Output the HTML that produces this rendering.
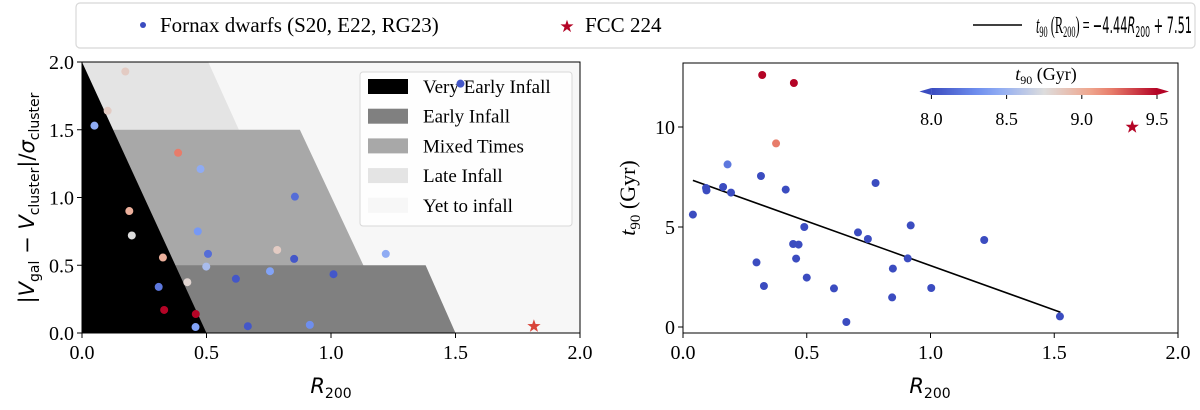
<!DOCTYPE html>
<html><head><meta charset="utf-8"><style>
body{margin:0;background:#fff;}
svg{display:block;font-family:"Liberation Serif",serif;}
</style></head><body>
<svg id="chart" width="1200" height="410" viewBox="0 0 1200 410" xmlns="http://www.w3.org/2000/svg">
<g>
<rect x="76" y="3" width="1119" height="45" rx="4" fill="#fff" stroke="#d8d8d8" stroke-width="1.2"/>
<circle cx="143" cy="25" r="3" fill="#3b4cc0"/>
<text x="160" y="32" font-size="21" fill="#000">Fornax dwarfs (S20, E22, RG23)</text>
<text x="567" y="32" font-size="17" fill="#b40426" text-anchor="middle">★</text>
<text x="585" y="32" font-size="21" fill="#000">FCC 224</text>
<line x1="973" y1="25" x2="1022" y2="25" stroke="#000" stroke-width="1.5"/>
<text x="1036" y="33" font-size="24" fill="#000" textLength="156" lengthAdjust="spacingAndGlyphs"><tspan font-style="italic">t</tspan><tspan font-size="16" dy="4">90</tspan><tspan dy="-4"> (R</tspan><tspan font-size="16" dy="4">200</tspan><tspan dy="-4">) = </tspan><tspan font-family="DejaVu Sans, sans-serif" font-size="22">−4.44</tspan><tspan font-family="DejaVu Sans, sans-serif" font-size="22" font-style="italic">R</tspan><tspan font-family="DejaVu Sans, sans-serif" font-size="15" dy="4">200</tspan><tspan font-family="DejaVu Sans, sans-serif" font-size="22" dy="-4"> + 7.51</tspan></text>
</g>
<g id="left"></g>
<g id="right"></g>
</svg>
<script>
const NS='http://www.w3.org/2000/svg';
// Left panel data
const leftR=[0.05,0.103,0.174,0.19,0.20,0.325,0.308,0.33,0.386,0.423,0.457,0.456,0.465,0.476,0.499,0.506,0.618,0.666,0.755,0.784,0.852,0.855,0.915,1.01,1.22,1.52];
const leftV=[1.53,1.64,1.93,0.90,0.72,0.557,0.34,0.17,1.33,0.375,0.14,0.044,0.75,1.21,0.49,0.584,0.40,0.05,0.456,0.613,0.547,1.006,0.06,0.434,0.584,1.84];
const leftC=[8.45,8.85,8.85,9.0,8.75,9.0,8.2,9.5,9.2,8.8,9.5,8.4,8.35,8.45,8.55,8.15,8.05,8.05,8.4,8.85,8.05,8.15,8.3,8.05,8.45,8.05];
const fccR=1.815, fccV=0.05, fccT=10.0;
// Right panel data
const rightR=[0.04,0.093,0.095,0.162,0.18,0.194,0.297,0.315,0.32,0.327,0.376,0.415,0.445,0.448,0.457,0.467,0.49,0.50,0.61,0.66,0.707,0.747,0.778,0.845,0.848,0.908,0.92,1.003,1.217,1.523];
const rightT=[5.62,6.95,6.83,7.0,8.13,6.72,3.23,7.55,12.6,2.05,9.18,6.87,4.15,12.2,3.42,4.12,5.0,2.47,1.93,0.25,4.73,4.4,7.2,1.48,2.92,3.43,5.08,1.95,4.35,0.53];
const rightC=[8.0,8.0,8.0,8.0,8.2,8.0,8.0,8.0,9.6,8.0,9.2,8.0,8.0,9.6,8.0,8.0,8.0,8.0,8.0,8.0,8.0,8.0,8.0,8.0,8.0,8.0,8.0,8.0,8.0,8.0];
const slope=-4.44, icpt=7.51, fitX=[0.04,1.525];
const xTicks=[0,0.5,1,1.5,2], xTickLabels=['0.0','0.5','1.0','1.5','2.0'];
const lyTicks=[0,0.5,1,1.5,2], lyTickLabels=['0.0','0.5','1.0','1.5','2.0'];
const ryTicks=[0,5,10], ryTickLabels=['0','5','10'];
const cbTicks=[8,8.5,9,9.5], cbTickLabels=['8.0','8.5','9.0','9.5'];
const regionNames=['Very Early Infall','Early Infall','Mixed Times','Late Infall','Yet to infall'];
const regionColors=['#000000','#808080','#a8a8a8','#e4e4e4','#f7f7f7'];

function mk(parent,tag,attrs,txt){const e=document.createElementNS(NS,tag);for(const k in attrs)e.setAttribute(k,attrs[k]);if(txt!==undefined)e.textContent=txt;parent.appendChild(e);return e;}
function cw(v){const t=Math.max(0,Math.min(1,(v-8)/1.5));
 const s=[[0,[59,76,192]],[0.25,[123,159,249]],[0.5,[221,221,221]],[0.75,[244,154,123]],[1,[180,4,38]]];
 for(let i=0;i<4;i++){if(t<=s[i+1][0]){const f=(t-s[i][0])/(s[i+1][0]-s[i][0]);const a=s[i][1],b=s[i+1][1];return 'rgb('+a.map((c,j)=>Math.round(c+(b[j]-c)*f)).join(',')+')';}}return 'rgb(180,4,38)';}
function star(cx,cy,r){let p=[];for(let i=0;i<10;i++){const a=-Math.PI/2+i*Math.PI/5;const rr=i%2?r*0.4:r;p.push((cx+rr*Math.cos(a)).toFixed(1)+','+(cy+rr*Math.sin(a)).toFixed(1));}return p.join(' ');}

// LEFT
const L=document.getElementById('left');
const lx=v=>82+v*249, ly=v=>333-v*135.5;
const poly=(pts,fill,name)=>{const e=mk(L,'polygon',{points:pts.map(p=>lx(p[0])+','+ly(p[1])).join(' '),fill:fill});

};
poly([[0,0],[0,2],[2,2],[2,0]],regionColors[4],'region-yet-to-infall');
poly([[0,2],[0.507,2],[0.63,1.5],[0,1.5]],regionColors[3],'region-late-infall');
poly([[0,1.5],[0.875,1.5],[1.13,0.5],[1.25,0],[0,0]],regionColors[2],'region-mixed-times');
poly([[0.375,0.5],[1.38,0.5],[1.5,0],[0.5,0]],regionColors[1],'region-early-infall');
poly([[0,2],[0.5,0],[0,0]],regionColors[0],'region-very-early-infall');
leftR.forEach((r,i)=>{const c=mk(L,'circle',{cx:lx(r),cy:ly(leftV[i]),r:4,fill:cw(leftC[i])});

});
const s1=mk(L,'polygon',{points:star(lx(fccR),ly(fccV),7),fill:'#d9453a'});


mk(L,'rect',{x:82,y:62,width:498,height:271,fill:'none',stroke:'#000','stroke-width':1});
xTicks.forEach((t,i)=>{mk(L,'line',{x1:lx(t),x2:lx(t),y1:333,y2:338,stroke:'#000'});
 const tx=mk(L,'text',{x:lx(t),y:359,'font-size':20,'text-anchor':'middle'},xTickLabels[i]);
 
 });
lyTicks.forEach((t,i)=>{mk(L,'line',{x1:77,x2:82,y1:ly(t),y2:ly(t),stroke:'#000'});
 const tx=mk(L,'text',{x:74,y:ly(t)+7,'font-size':20,'text-anchor':'end'},lyTickLabels[i]);
 
 });
const lxl=mk(L,'text',{x:331,y:393,'font-size':21,'text-anchor':'middle','font-family':'DejaVu Sans, sans-serif'});


lxl.innerHTML='<tspan font-style="italic">R</tspan><tspan font-size="14" dy="5">200</tspan>';
const lyl=mk(L,'text',{transform:'translate(34,198) rotate(-90)','font-size':21,'text-anchor':'middle','font-family':'DejaVu Sans, sans-serif'});


lyl.innerHTML='|<tspan font-style="italic">V</tspan><tspan font-size="14" dy="5">gal</tspan><tspan dy="-5"> − </tspan><tspan font-style="italic">V</tspan><tspan font-size="14" dy="5">cluster</tspan><tspan dy="-5">|/</tspan><tspan font-style="italic">σ</tspan><tspan font-size="14" dy="5">cluster</tspan>';
// inner legend
const lg=mk(L,'g',{});


mk(lg,'rect',{x:360,y:72,width:212,height:154,rx:3,fill:'#fff','fill-opacity':0.85,stroke:'#d8d8d8'});
regionNames.forEach((n,i)=>{const y=87+i*29.7;
 mk(lg,'rect',{x:368,y:y-8,width:40,height:15,fill:regionColors[i]});
 const t=mk(lg,'text',{x:423,y:y+6,'font-size':19},n);
 
 });
const over=mk(L,'circle',{cx:lx(leftR[25]),cy:ly(leftV[25]),r:4,fill:cw(leftC[25])});

// RIGHT
const R=document.getElementById('right');
const rx=v=>683+v*247.5, ry=v=>327-v*20;
mk(R,'rect',{x:683,y:63,width:495,height:270,fill:'#fff',stroke:'#000','stroke-width':1});
const fl=mk(R,'line',{x1:rx(fitX[0]),y1:ry(slope*fitX[0]+icpt),x2:rx(fitX[1]),y2:ry(slope*fitX[1]+icpt),stroke:'#000','stroke-width':1.6});


rightR.forEach((r,i)=>{const c=mk(R,'circle',{cx:rx(r),cy:ry(rightT[i]),r:4,fill:cw(rightC[i])});

});
const s2=mk(R,'polygon',{points:star(rx(fccR),ry(fccT),7),fill:'#b40426'});


xTicks.forEach((t,i)=>{mk(R,'line',{x1:rx(t),x2:rx(t),y1:333,y2:338,stroke:'#000'});
 const tx=mk(R,'text',{x:rx(t),y:359,'font-size':20,'text-anchor':'middle'},xTickLabels[i]);
 
 });
ryTicks.forEach((t,i)=>{mk(R,'line',{x1:678,x2:683,y1:ry(t),y2:ry(t),stroke:'#000'});
 const tx=mk(R,'text',{x:675,y:ry(t)+7,'font-size':20,'text-anchor':'end'},ryTickLabels[i]);
 
 });
const rxl=mk(R,'text',{x:930,y:393,'font-size':21,'text-anchor':'middle','font-family':'DejaVu Sans, sans-serif'});


rxl.innerHTML='<tspan font-style="italic">R</tspan><tspan font-size="14" dy="5">200</tspan>';
const ryl=mk(R,'text',{transform:'translate(635,198) rotate(-90)','font-size':22,'text-anchor':'middle'});


ryl.innerHTML='<tspan font-style="italic">t</tspan><tspan font-size="15" dy="5">90</tspan><tspan dy="-5"> (Gyr)</tspan>';
// colorbar
const cb=mk(R,'g',{});


const cx=v=>931.4+(v-8)*150.4;
const defs=mk(cb,'defs',{});const gr=mk(defs,'linearGradient',{id:'cwg',x1:0,x2:1,y1:0,y2:0});
for(let k=0;k<=10;k++)mk(gr,'stop',{offset:k/10,'stop-color':cw(8+k*0.15)});
mk(cb,'polygon',{points:`${cx(8)},88 ${cx(9.5)},88 ${cx(9.5)},95 ${cx(8)},95`,fill:'url(#cwg)'});
mk(cb,'polygon',{points:`${cx(8)},88 ${cx(8)-12},91.5 ${cx(8)},95`,fill:cw(7.9)});
mk(cb,'polygon',{points:`${cx(9.5)},88 ${cx(9.5)+12},91.5 ${cx(9.5)},95`,fill:cw(9.6)});
cbTicks.forEach((t,i)=>{mk(cb,'line',{x1:cx(t),x2:cx(t),y1:95,y2:99,stroke:'#000'});
 const tx=mk(cb,'text',{x:cx(t),y:125,'font-size':18,'text-anchor':'middle'},cbTickLabels[i]);
 
 });
const cbt=mk(cb,'text',{x:1046,y:80,'font-size':18,'text-anchor':'middle'});
cbt.innerHTML='<tspan font-style="italic">t</tspan><tspan font-size="12" dy="4">90</tspan><tspan dy="-4"> (Gyr)</tspan>';
</script>
</body></html>
